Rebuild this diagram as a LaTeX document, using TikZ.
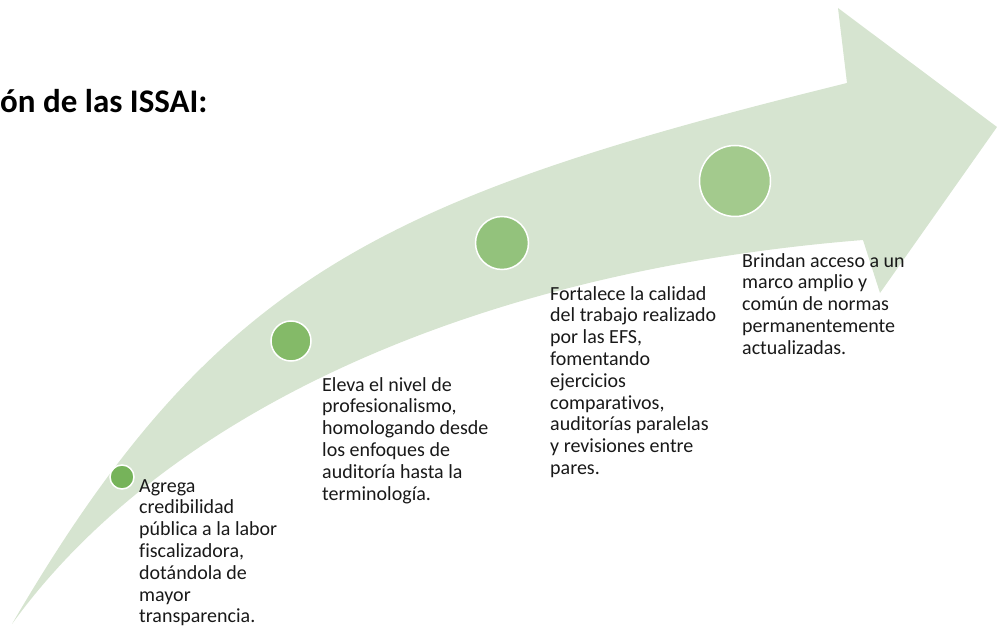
\documentclass[tikz,border=0pt]{standalone}
\usepackage{fontspec}
\setmainfont{Carlito}[Ligatures=NoCommon]
\usepackage{xcolor}
\definecolor{bandgreen}{HTML}{D6E4D0}
\definecolor{dotA}{HTML}{76B35A}
\definecolor{dotB}{HTML}{84BA68}
\definecolor{dotC}{HTML}{93C27C}
\definecolor{dotD}{HTML}{A3CA8D}

\begin{document}
\begin{tikzpicture}[x=1pt,y=-1pt,
	dot/.style={circle,draw=white,line width=1.5pt,inner sep=0pt},
	note/.style={anchor=north west,align=left,inner sep=0pt,text=black!90,
		font=\fontsize{20}{21.8}\selectfont}]
	\useasboundingbox (0,0) rectangle (997,628);
	\fill[bandgreen] (12,624) .. controls (215,276) and (381,198) .. (847,83)
		-- (838,8) -- (997,127) -- (880,293) -- (863,240)
		.. controls (463,272) and (160,419) .. (12,624) -- cycle;
	\node[anchor=base west,inner sep=0pt,font=\fontsize{33}{38}\selectfont\bfseries] (title) at (0,113) {ón de las ISSAI:};
	\node[dot,fill=dotA,minimum size=24pt] (c1) at (122,477) {};
	\node[dot,fill=dotB,minimum size=40pt] (c2) at (291,341) {};
	\node[dot,fill=dotC,minimum size=53pt] (c3) at (502,243) {};
	\node[dot,fill=dotD,minimum size=71pt] (c4) at (735,181) {};
	\node[note] (t1) at (139,479) {Agrega\\credibilidad\\pública a la labor\\fiscalizadora,\\dotándola de\\mayor\\transparencia.};
	\node[note] (t2) at (322,377) {Eleva el nivel de\\profesionalismo,\\homologando desde\\los enfoques de\\auditoría hasta la\\terminología.};
	\node[note] (t3) at (550,286) {Fortalece la calidad\\del trabajo realizado\\por las EFS,\\fomentando\\ejercicios\\comparativos,\\auditorías paralelas\\y revisiones entre\\pares.};
	\node[note] (t4) at (742,253) {Brindan acceso a un\\marco amplio y\\común de normas\\permanentemente\\actualizadas.};
\end{tikzpicture}
\end{document}
